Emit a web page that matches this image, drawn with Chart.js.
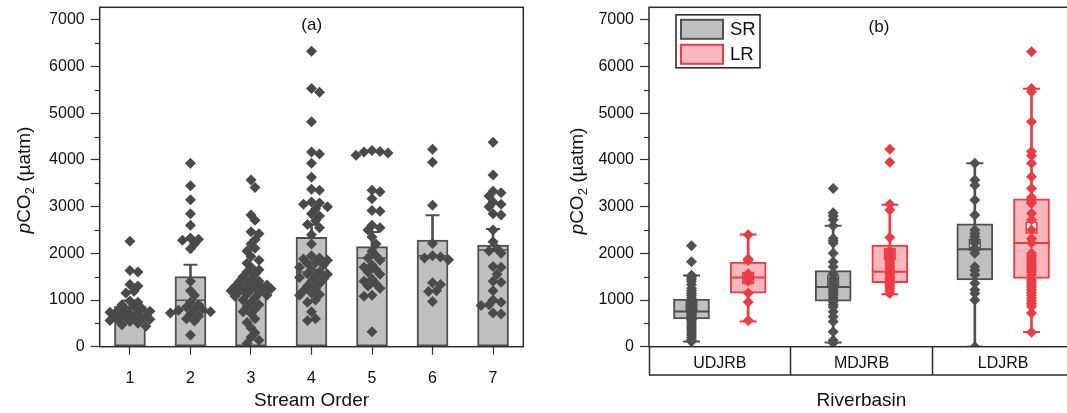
<!DOCTYPE html>
<html>
<head>
<meta charset="utf-8">
<script src="https://cdn.jsdelivr.net/npm/chart.js@4.4.1/dist/chart.umd.min.js"></script>
<style>
  html, body { margin: 0; padding: 0; background: #fff; }
  body { width: 1067px; height: 413px; overflow: hidden; position: relative; }
  #left { position: absolute; left: 0; top: 0; }
  #right { position: absolute; left: 530px; top: 0; }
</style>
</head>
<body>
<canvas id="left" width="530" height="413"></canvas>
<canvas id="right" width="560" height="413"></canvas>
<script>
const FONT = "'Liberation Sans', Arial, sans-serif";
const GREY = '#505050';
const RED = '#ee3b42';

// ---- panel (a): pCO2 by stream order ----
const orders = ['1', '2', '3', '4', '5', '6', '7'];
const orderMeans = [872, 1500, 1340, 2343, 2143, 2286, 2179];
const orderErrors = [120, 257, 110, 271, 314, 528, 342];
const orderMedians = [700, 993, 1200, 1600, 1900, 1950, 2071];
const order1 = [2260, 1630, 1600, 1330, 1300, 1190, 1150, 980, 950, 900, 860, 820, 800, 780, 760, 740, 720, 700, 680, 660, 650, 630, 620, 600, 590, 580, 560, 540, 500, 470, 440];
const order2 = [3930, 3450, 3150, 2850, 2600, 2330, 2300, 2280, 2200, 2100, 1400, 1200, 1100, 950, 900, 850, 800, 800, 780, 750, 720, 700, 650, 600, 550, 250];
const order3 = [3570, 3410, 2820, 2710, 2460, 2420, 2290, 2200, 2110, 2050, 1930, 1850, 1790, 1700, 1650, 1600, 1550, 1500, 1450, 1400, 1390, 1350, 1320, 1300, 1290, 1280, 1260, 1240, 1220, 1200, 1180, 1150, 1130, 1100, 1080, 1050, 1000, 950, 900, 860, 800, 750, 710, 600, 520, 400, 300, 200, 140, 70];
const order4 = [6330, 5530, 5450, 4820, 4170, 4130, 3930, 3630, 3370, 3350, 3100, 3080, 3050, 3000, 2950, 2850, 2800, 2700, 2620, 2550, 2400, 2200, 1950, 1900, 1880, 1850, 1800, 1780, 1750, 1700, 1650, 1600, 1560, 1550, 1500, 1480, 1450, 1400, 1350, 1300, 1250, 1200, 1150, 1120, 1100, 1000, 950, 750, 600, 560];
const order5 = [4200, 4180, 4170, 4150, 4100, 3350, 3320, 3170, 2920, 2900, 2600, 2550, 2500, 2350, 2200, 2050, 1950, 1900, 1850, 1750, 1700, 1650, 1600, 1550, 1450, 1400, 1350, 1300, 1250, 1100, 1080, 320];
const order6 = [4230, 3950, 3030, 2210, 1950, 1920, 1900, 1860, 1370, 1330, 1200, 1180, 970];
const order7 = [4380, 3680, 3330, 3300, 3230, 3100, 3050, 3000, 2850, 2820, 2500, 2250, 2100, 2050, 2000, 1720, 1700, 1550, 1400, 1380, 1200, 1000, 950, 900, 880, 720, 700];
const orderPoints = [order1, order2, order3, order4, order5, order6, order7];

// ---- panel (b): pCO2 by river basin, SR vs LR ----
const basins = ['UDJRB', 'MDJRB', 'LDJRB'];
const groups = ['SR', 'LR'];
const srLow = [110, 90, 0];
const srQ1 = [594, 975, 1430];
const srMedian = [755, 1280, 2090];
const srQ3 = [1022, 1630, 2630];
const srHigh = [1525, 2590, 3930];
const srMean = [860, 1410, 2180];
const lrLow = [540, 1125, 315];
const lrQ1 = [1144, 1370, 1465];
const lrMedian = [1480, 1608, 2220];
const lrQ3 = [1815, 2175, 3165];
const lrHigh = [2405, 3040, 5525];
const lrMean = [1470, 1985, 2550];
const srPoints = [
    [2160, 1820, 1530, 1500, 1450, 1400, 1330, 1250, 1200, 1150, 1100, 1050, 1000, 950, 900, 870, 850, 800, 780, 750, 720, 700, 680, 650, 620, 600, 580, 550, 500, 450, 400, 350, 300, 250, 200, 150, 110],
    [3390, 2870, 2800, 2720, 2590, 2320, 2270, 2220, 2000, 1820, 1710, 1570, 1460, 1400, 1350, 1300, 1250, 1200, 1150, 1100, 1050, 1000, 960, 900, 850, 750, 640, 540, 320, 140, 80],
    [3930, 3570, 3460, 3140, 2820, 2500, 2430, 2360, 2290, 2220, 2110, 2000, 1710, 1640, 1540, 1360, 1220, 1140, 1000, 0]
];
const lrPoints = [
    [2400, 1880, 1850, 1560, 1520, 1480, 1450, 1400, 1150, 960, 560],
    [4230, 3950, 3050, 2930, 2340, 2050, 2000, 1950, 1900, 1850, 1800, 1750, 1700, 1650, 1600, 1550, 1500, 1450, 1400, 1350, 1300, 1250, 1200, 1140],
    [6320, 5530, 5460, 4820, 4180, 4090, 3930, 3640, 3390, 3200, 3150, 3100, 3070, 2860, 2720, 2500, 2320, 2220, 2000, 1950, 1900, 1850, 1800, 1750, 1700, 1650, 1600, 1540, 1430, 1380, 1330, 1280, 1220, 1160, 1100, 1040, 980, 920, 860, 720, 310]
];

const yTicks = [0, 1000, 2000, 3000, 4000, 5000, 6000, 7000];
const yMax = 7270;

// spread the diamonds sideways so they don't all sit on the centre line
// (pxX / pxY: rough pixels per data unit on each axis)
function swarm(values, center, pxX, pxY) {
    const placed = [];
    const out = [];
    [...values].sort((a, b) => b - a).forEach((v) => {
        const py = v * pxY;
        let best = 0, bestGap = -1;
        for(let k = 0; k < 11; k++) {
            const dx = k === 0 ? 0 : (k % 2 ? 1 : -1) * Math.ceil(k / 2) * 4;
            let gap = Infinity;
            placed.forEach((p) => { gap = Math.min(gap, Math.abs(p.x - dx) + Math.abs(p.y - py)); });
            if(gap > bestGap) { best = dx; bestGap = gap; }
            if(gap >= 8) break;
        }
        placed.push({ x: best, y: py });
        out.push({ x: center + best / pxX, y: v });
    });
    return out;
}

function drawYTitle(ctx, x, y) {
    const parts = [
        { t: 'p', f: `italic 19px ${FONT}`, dy: 0 },
        { t: 'CO', f: `19px ${FONT}`, dy: 0 },
        { t: '2', f: `13px ${FONT}`, dy: 5 },
        { t: ' (µatm)', f: `19px ${FONT}`, dy: 0 }
    ];
    ctx.save();
    ctx.translate(x, y);
    ctx.rotate(-Math.PI / 2);
    ctx.textBaseline = 'middle';
    ctx.fillStyle = '#111';
    let w = 0;
    parts.forEach((p) => { ctx.font = p.f; p.w = ctx.measureText(p.t).width; w += p.w; });
    let cx = -w / 2;
    parts.forEach((p) => { ctx.font = p.f; ctx.fillText(p.t, cx, p.dy); cx += p.w; });
    ctx.restore();
}

// frame, minor ticks, panel letter, y title (and the legend in panel b)
function decor(opts) {
    return {
        id: 'decor',
        afterDraw(chart) {
            const ctx = chart.ctx, a = chart.chartArea, ys = chart.scales.y;
            ctx.save();
            ctx.strokeStyle = '#333';
            ctx.lineWidth = 1.2;
            for(let v = 500; v < yMax; v += 1000) {
                const py = Math.round(ys.getPixelForValue(v)) + 0.5;
                ctx.beginPath(); ctx.moveTo(a.left - 5, py); ctx.lineTo(a.left, py); ctx.stroke();
            }
            ctx.lineWidth = 1.5;
            ctx.strokeStyle = '#2a2a2a';
            ctx.strokeRect(a.left, a.top, a.right - a.left, a.bottom - a.top);
            if(opts.catBox) {
                ctx.beginPath();
                ctx.moveTo(a.left, a.bottom + opts.catBox);
                ctx.lineTo(a.right, a.bottom + opts.catBox);
                ctx.stroke();
            }
            ctx.fillStyle = '#111';
            ctx.font = `17px ${FONT}`;
            ctx.textAlign = 'center';
            ctx.textBaseline = 'middle';
            ctx.fillText(opts.label, a.left + opts.labelX, a.top + opts.labelY);
            if(opts.legend) {
                const lx = a.left + 27, ly = a.top + 7.5;
                ctx.lineWidth = 1.5;
                ctx.strokeStyle = '#222';
                ctx.strokeRect(lx, ly, 84, 53);
                const sw = [['#c0c0c0', GREY], ['#f9b9bc', RED]];
                groups.forEach((g, i) => {
                    const sy = ly + 5 + i * 25;
                    ctx.fillStyle = sw[i][0];
                    ctx.fillRect(lx + 5, sy, 42, 19);
                    ctx.lineWidth = 2;
                    ctx.strokeStyle = sw[i][1];
                    ctx.strokeRect(lx + 5, sy, 42, 19);
                    ctx.fillStyle = '#111';
                    ctx.font = `18.5px ${FONT}`;
                    ctx.textAlign = 'left';
                    ctx.fillText(g, lx + 54, sy + 10);
                });
            }
            ctx.restore();
            drawYTitle(ctx, opts.titleX, opts.titleY);
        }
    };
}

function yScale(width) {
    return {
        min: 0,
        max: yMax,
        afterBuildTicks: (s) => { s.ticks = yTicks.map((v) => ({ value: v })); },
        afterFit: (s) => { s.width = width; s.paddingTop = 0; s.paddingBottom = 0; },
        border: { display: false },
        grid: { drawOnChartArea: false, tickLength: 9, tickColor: '#333', tickWidth: 1.2 },
        ticks: { color: '#111', padding: 6, font: { family: FONT, size: 16 }, callback: (v) => String(v) }
    };
}

const common = {
    responsive: false,
    animation: false,
    events: [],
    plugins: { legend: { display: false }, tooltip: { enabled: false } }
};

// ---------- panel (a) ----------
const leftPoints = [];
orderPoints.forEach((vals, i) => { leftPoints.push(...swarm(vals, i + 1, 60.5, 0.04667)); });

new Chart(document.getElementById('left'), {
    type: 'bar',
    data: {
        datasets: [
            { type: 'scatter', data: leftPoints, pointStyle: 'rectRot', pointRadius: 5.5, backgroundColor: '#4a4a4a', borderWidth: 0, order: 0 },
            { type: 'bar', data: orders.map((o, i) => ({ x: i + 1, y: [orderMeans[i], orderMeans[i] + orderErrors[i]] })),
              barThickness: 2, backgroundColor: GREY, grouped: false, order: 1 },
            { type: 'scatter', data: orders.map((o, i) => ({ x: i + 1, y: orderMeans[i] + orderErrors[i] })),
              pointStyle: 'line', pointRadius: 7, borderColor: GREY, borderWidth: 2, order: 1 },
            { type: 'scatter', data: orders.map((o, i) => ({ x: i + 1, y: orderMedians[i] })),
              pointStyle: 'line', pointRadius: 15, borderColor: GREY, borderWidth: 1.5, order: 2 },
            { type: 'bar', data: orders.map((o, i) => ({ x: i + 1, y: orderMeans[i] })),
              barThickness: 31, backgroundColor: '#c0c0c0', borderColor: GREY, borderWidth: 2, borderSkipped: false, grouped: false, order: 3 }
        ]
    },
    options: {
        ...common,
        layout: { autoPadding: false, padding: { left: 0, right: 6.7, top: 7.3, bottom: 0 } },
        scales: {
            x: {
                type: 'linear',
                min: 0.5,
                max: 7.5,
                offset: false,
                afterBuildTicks: (s) => { s.ticks = orders.map((o, i) => ({ value: i + 1 })); },
                afterFit: (s) => { s.height = 66.3; s.paddingLeft = 0; s.paddingRight = 0; },
                border: { display: false },
                grid: { offset: false, drawOnChartArea: false, tickLength: 8, tickColor: '#333', tickWidth: 1.2 },
                ticks: { color: '#111', padding: 14, maxRotation: 0, autoSkip: false, font: { family: FONT, size: 16 },
                         callback: (v) => orders[v - 1] },
                title: { display: true, text: 'Stream Order', color: '#111', font: { family: FONT, size: 19 }, padding: { top: 0, bottom: 1 } }
            },
            y: yScale(99.7)
        }
    },
    plugins: [decor({ label: '(a)', labelX: 212, labelY: 18, titleX: 25, titleY: 180 })]
});

// ---------- panel (b) ----------
function boxSets(offset, low, q1, med, q3, high, mean, pts, fill, line) {
    const xs = basins.map((b, i) => i + 0.5 + offset);
    const dots = [];
    pts.forEach((vals, i) => vals.forEach((v) => dots.push({ x: xs[i], y: v })));
    return [
        { type: 'scatter', data: dots, pointStyle: 'rectRot', pointRadius: 5.5, backgroundColor: line, borderWidth: 0, order: 0 },
        { type: 'scatter', data: xs.map((x, i) => ({ x, y: mean[i] })), pointStyle: 'rect', pointRadius: 7.5,
          backgroundColor: 'rgba(255,255,255,0.85)', borderColor: line, borderWidth: 1.5, order: 1 },
        { type: 'scatter', data: xs.map((x, i) => ({ x, y: med[i] })), pointStyle: 'line', pointRadius: 18, borderColor: line, borderWidth: 2, order: 2 },
        { type: 'scatter', data: xs.flatMap((x, i) => [{ x, y: low[i] }, { x, y: high[i] }]), pointStyle: 'line', pointRadius: 8.5, borderColor: line, borderWidth: 2, order: 2 },
        { type: 'bar', data: xs.map((x, i) => ({ x, y: [q1[i], q3[i]] })), barThickness: 36, backgroundColor: fill,
          borderColor: line, borderWidth: 2, borderSkipped: false, grouped: false, order: 3 },
        { type: 'bar', data: xs.map((x, i) => ({ x, y: [low[i], high[i]] })), barThickness: 2, backgroundColor: line, grouped: false, order: 4 }
    ];
}

new Chart(document.getElementById('right'), {
    type: 'bar',
    data: {
        datasets: [
            ...boxSets(-0.2, srLow, srQ1, srMedian, srQ3, srHigh, srMean, srPoints, '#c0c0c0', GREY),
            ...boxSets(0.2, lrLow, lrQ1, lrMedian, lrQ3, lrHigh, lrMean, lrPoints, '#f9b9bc', RED)
        ]
    },
    options: {
        ...common,
        layout: { autoPadding: false, padding: { left: 0, right: 16, top: 7.3, bottom: 0 } },
        scales: {
            x: {
                type: 'linear',
                min: 0,
                max: 3,
                offset: false,
                afterBuildTicks: (s) => { s.ticks = [0, 0.5, 1, 1.5, 2, 2.5, 3].map((v) => ({ value: v })); },
                afterFit: (s) => { s.height = 66.3; s.paddingLeft = 0; s.paddingRight = 0; },
                border: { display: false },
                grid: {
                    offset: false, drawOnChartArea: false, tickLength: 28, tickWidth: 1.5,
                    tickColor: (c) => (c.tick && Number.isInteger(c.tick.value)) ? '#2a2a2a' : 'rgba(0,0,0,0)'
                },
                ticks: { color: '#111', padding: -21, maxRotation: 0, autoSkip: false, font: { family: FONT, size: 16 },
                         callback: (v) => Number.isInteger(v) ? '' : basins[Math.floor(v)] },
                title: { display: true, text: 'Riverbasin', color: '#111', font: { family: FONT, size: 19 }, padding: { top: 0, bottom: 0.5 } }
            },
            y: yScale(119)
        }
    },
    plugins: [decor({ label: '(b)', labelX: 230, labelY: 20, titleX: 48, titleY: 181, legend: true, catBox: 28.3 })]
});
</script>
</body>
</html>
